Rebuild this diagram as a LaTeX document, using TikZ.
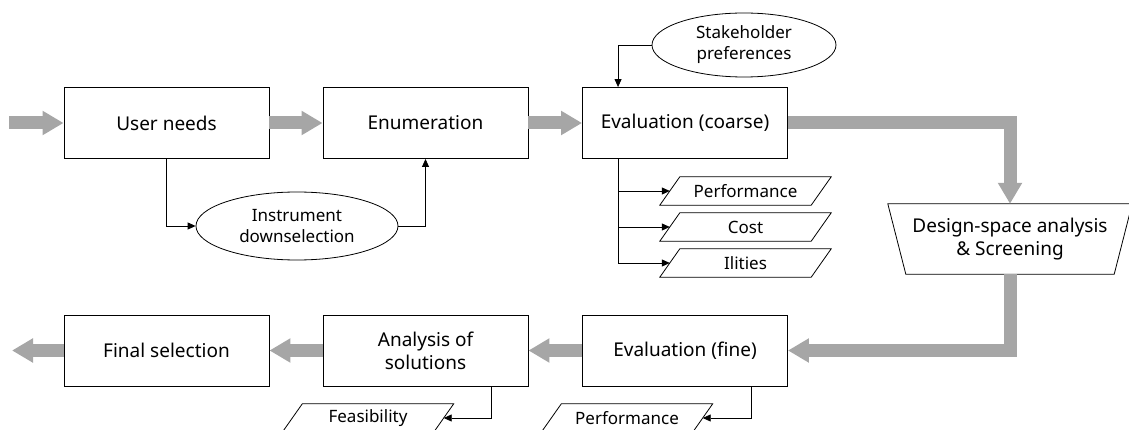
\documentclass[tikz,border=0pt]{standalone}
\usepackage{fontspec}
\setmainfont{Noto Sans}
\usetikzlibrary{arrows.meta,shapes.geometric,calc}
\definecolor{flowgray}{RGB}{166,166,166}

\begin{document}
\begin{tikzpicture}[x=1pt,y=-1pt,
  box/.style={draw, line width=0.9pt, minimum width=205pt, minimum height=71pt,
    inner sep=0pt, align=center, font=\fontsize{19}{23}\selectfont},
  oval/.style={draw, ellipse, line width=0.8pt, inner sep=0pt, align=center,
    font=\fontsize{17}{21}\selectfont},
  % parallelogram body: the outline is drawn around it below
  para/.style={minimum width=151pt, minimum height=28pt, inner sep=0pt,
    font=\fontsize{17}{20}\selectfont},
  screen/.style={minimum width=226pt, minimum height=70pt, inner sep=0pt,
    align=center, font=\fontsize{19}{23}\selectfont},
  outline/.style={draw, line width=0.8pt, line join=miter},
  flow/.style={draw=flowgray, line width=13pt, line join=miter,
    -{Triangle[width=23pt,length=21pt]}},
  link/.style={line width=0.8pt, -{Triangle[length=8pt,width=7pt]}}
]
\useasboundingbox (0,0) rectangle (1129,430);

% main process boxes
\node[box] (un) at (166.5,123) {User needs};
\node[box] (en) at (425.5,123) {Enumeration};
\node[box] (ec) at (685,123) {Evaluation (coarse)};
\node[box] (ef) at (685,350.5) {Evaluation (fine)};
\node[box] (an) at (425.5,350.5) {Analysis of\\solutions};
\node[box] (fs) at (166.5,350.5) {Final selection};

% side inputs
\node[oval, minimum width=202pt, minimum height=68pt] (inst) at (297,226) {Instrument\\downselection};
\node[oval, minimum width=184pt, minimum height=64pt] (sh) at (744,45) {Stakeholder\\preferences};

% outputs of the evaluations (parallelograms)
\node[para] (p1) at (745.5,191) {Performance};
\node[para] (p2) at (745.5,227) {Cost};
\node[para] (p3) at (745.5,263) {Ilities};
\node[para] (feas) at (368,418) {Feasibility};
\node[para] (p4) at (627,418) {Performance};
\foreach \n in {p1,p2,p3,feas,p4}
  \draw[outline] ([xshift=-10pt]\n.south west) -- ([xshift=10pt]\n.north west)
    -- ([xshift=10pt]\n.north east) -- ([xshift=-10pt]\n.south east) -- cycle;

% screening step (inverted trapezoid)
\node[screen] (ds) at (1010,239) {Design-space analysis\\\& Screening};
\draw[outline] ([xshift=-9pt]ds.north west) -- ([xshift=9pt]ds.north east)
  -- ([xshift=-9pt]ds.south east) -- ([xshift=9pt]ds.south west) -- cycle;

% main flow
\coordinate (in) at (9,123);
\coordinate (out) at (12,350.5);
\draw[flow] (in) -- (un.west);
\draw[flow] (un.east) -- (en.west);
\draw[flow] (en.east) -- (ec.west);
\draw[flow] (ec.east) -| (ds.north);
\draw[flow] (ds.south) |- (ef.east);
\draw[flow] (ef.west) -- (an.east);
\draw[flow] (an.west) -- (fs.east);
\draw[flow] (fs.west) -- (out);

% thin links
\draw[link] (un.south) |- (inst);
\draw[link] (inst) -| (en.south);
\coordinate (ectop) at ($(ec.north west)+(36,0)$);
\coordinate (ecbot) at ($(ec.south west)+(36,0)$);
\draw[link] (sh) -| (ectop);
\draw[link] (ecbot) |- (p1);
\draw[link] (ecbot) |- (p2);
\draw[link] (ecbot) |- (p3);
\coordinate (anbot) at ($(an.south east)+(-37,0)$);
\coordinate (efbot) at ($(ef.south east)+(-37,0)$);
\draw[link] (anbot) |- (feas);
\draw[link] (efbot) |- (p4);
\end{tikzpicture}
\end{document}
